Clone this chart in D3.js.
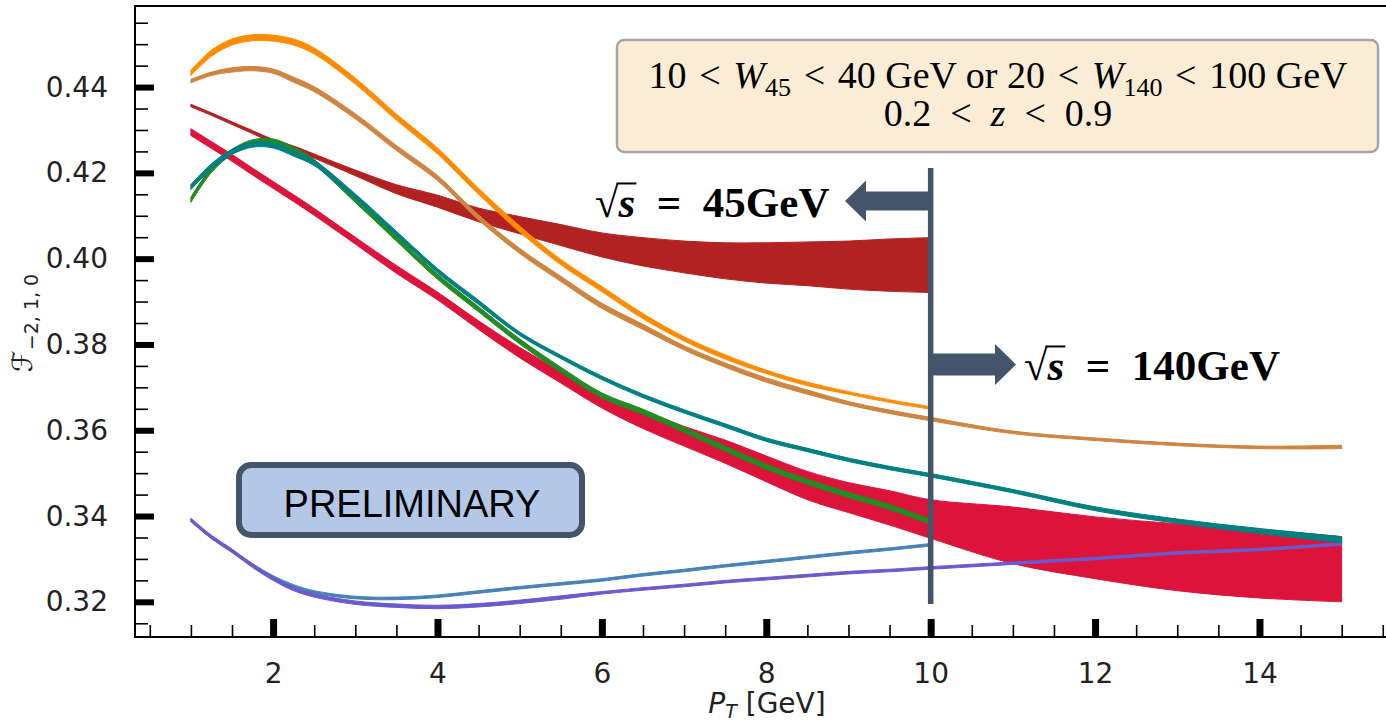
<!DOCTYPE html>
<html>
<head>
<meta charset="utf-8">
<script src="https://cdn.jsdelivr.net/npm/d3@7"></script>
<style>
  html, body { margin: 0; padding: 0; background: #fff; }
  svg { display: block; }
</style>
</head>
<body>
<svg id="chart" width="1386" height="725"></svg>
<script>
// P_T grids: the 45 GeV curves stop at 10 GeV, the 140 GeV ones run to 15 GeV
const ptLow = [1, 1.25, 1.5, 1.75, 2, 2.25, 2.5, 3, 3.5, 4, 4.5, 5, 5.5, 6, 6.5, 7, 7.5, 8, 8.5, 9, 9.5, 10];
const ptHigh = [1, 1.25, 1.5, 1.75, 2, 2.25, 2.5, 3, 3.5, 4, 4.5, 5, 5.5, 6, 6.5, 7, 7.5, 8, 8.5, 9, 9.5, 10, 11, 12, 13, 14, 15];

// band centres and half widths
const orangeMid = [0.4433, 0.4479, 0.4505, 0.4515, 0.4514, 0.4505, 0.4484, 0.4414, 0.4330, 0.4251, 0.4157, 0.4069, 0.3992, 0.3929, 0.3866, 0.3813, 0.3771, 0.3736, 0.3708, 0.3687, 0.3668, 0.3652];
const orangeHalf = [0.0006, 0.0007, 0.0007, 0.0007, 0.0007, 0.0007, 0.0007, 0.0007, 0.0007, 0.0007, 0.0007, 0.0007, 0.0006, 0.0006, 0.0006, 0.0005, 0.0005, 0.0004, 0.0004, 0.0003, 0.0003, 0.0003];

const tanMid = [0.4414, 0.4431, 0.4440, 0.4443, 0.4437, 0.4417, 0.4395, 0.4332, 0.4258, 0.4188, 0.4096, 0.4018, 0.3953, 0.3890, 0.3841, 0.3792, 0.3752, 0.3717, 0.3689, 0.3663, 0.3643, 0.3626, 0.3595, 0.3579, 0.3567, 0.3560, 0.3561];
const tanHalf = [0.0004, 0.0004, 0.0005, 0.0005, 0.0005, 0.0006, 0.0006, 0.0006, 0.0006, 0.0006, 0.0006, 0.0006, 0.0006, 0.0006, 0.0006, 0.0005, 0.0005, 0.0005, 0.0005, 0.0004, 0.0004, 0.0004, 0.0003, 0.0003, 0.0003, 0.0003, 0.0004];

const firebrickMid = [0.4357, 0.4337, 0.4316, 0.4295, 0.4274, 0.4258, 0.4239, 0.4200, 0.4162, 0.4134, 0.4102, 0.4078, 0.4055, 0.4032, 0.4016, 0.4004, 0.3995, 0.3990, 0.3988, 0.3985, 0.3985, 0.3985];
const firebrickHalf = [0.0003, 0.0003, 0.0003, 0.00035, 0.0004, 0.00047, 0.0005, 0.00065, 0.00105, 0.0014, 0.0016, 0.002, 0.00245, 0.0028, 0.0033, 0.0037, 0.0042, 0.0047, 0.0051, 0.0056, 0.0061, 0.0064];

const crimsonMid = [0.4295, 0.4265, 0.4235, 0.4203, 0.4172, 0.4141, 0.4109, 0.4042, 0.3975, 0.3913, 0.3845, 0.3781, 0.3724, 0.3668, 0.3625, 0.3586, 0.3550, 0.3510, 0.3471, 0.3443, 0.3419, 0.3393, 0.3355, 0.3326, 0.3304, 0.3289, 0.3276];
const crimsonHalf = [0.0008, 0.0008, 0.0008, 0.0008, 0.0008, 0.0008, 0.0008, 0.0008, 0.0009, 0.0009, 0.001, 0.0012, 0.0014, 0.0016, 0.0021, 0.0023, 0.0027, 0.003, 0.0033, 0.0035, 0.004, 0.0045, 0.0066, 0.0072, 0.0078, 0.008, 0.0076];

const tealMid = [0.4167, 0.4215, 0.4249, 0.4266, 0.4264, 0.4245, 0.4223, 0.4145, 0.4059, 0.3972, 0.3898, 0.3825, 0.3771, 0.3722, 0.3680, 0.3644, 0.3611, 0.3578, 0.3554, 0.3531, 0.3512, 0.3495, 0.3458, 0.3417, 0.3388, 0.3365, 0.3345];
const tealHalf = [0.0006, 0.0006, 0.0006, 0.0006, 0.0006, 0.0006, 0.0006, 0.0006, 0.0005, 0.0005, 0.0005, 0.0004, 0.0004, 0.0004, 0.0004, 0.0004, 0.0004, 0.0004, 0.0004, 0.0004, 0.0004, 0.0004, 0.0004, 0.00045, 0.0005, 0.0006, 0.0007];

const greenMid = [0.4137, 0.4207, 0.4249, 0.4271, 0.4273, 0.4254, 0.4225, 0.4137, 0.4047, 0.3958, 0.3882, 0.3807, 0.3741, 0.3681, 0.3643, 0.3601, 0.3557, 0.3515, 0.3480, 0.3449, 0.3421, 0.3386];
const greenHalf = [0.0006, 0.0006, 0.0006, 0.0006, 0.0006, 0.0006, 0.0006, 0.0006, 0.0006, 0.0006, 0.0006, 0.0006, 0.0006, 0.0006, 0.0006, 0.0006, 0.0006, 0.0006, 0.0006, 0.0006, 0.0006, 0.0006];

const blueMid = [0.3390, 0.3351, 0.3319, 0.3286, 0.3258, 0.3237, 0.3223, 0.3210, 0.3208, 0.3213, 0.3223, 0.3233, 0.3242, 0.3251, 0.3263, 0.3273, 0.3284, 0.3294, 0.3304, 0.3314, 0.3323, 0.3333];
const blueHalf = [0.0003, 0.0003, 0.0003, 0.0003, 0.0003, 0.0003, 0.0003, 0.0003, 0.0003, 0.0003, 0.0003, 0.0003, 0.0003, 0.0003, 0.0003, 0.0003, 0.0003, 0.0003, 0.0003, 0.0003, 0.0003, 0.0003];

const purpleMid = [0.3391, 0.3351, 0.3319, 0.3284, 0.3254, 0.3230, 0.3215, 0.3198, 0.3191, 0.3188, 0.3192, 0.3200, 0.3210, 0.3221, 0.3230, 0.3238, 0.3247, 0.3254, 0.3261, 0.3268, 0.3273, 0.3279, 0.3290, 0.3301, 0.3314, 0.3322, 0.3335];
const purpleHalf = [0.0004, 0.0004, 0.0004, 0.0004, 0.0004, 0.0004, 0.0004, 0.0004, 0.0004, 0.0004, 0.0004, 0.0004, 0.0004, 0.0003, 0.0003, 0.0003, 0.0003, 0.0003, 0.0003, 0.0003, 0.0003, 0.0003, 0.0003, 0.0003, 0.0003, 0.0003, 0.0003];

// axis ticks
const xMajor = [2, 4, 6, 8, 10, 12, 14];
const xMinor = [0.5, 1, 1.5, 2.5, 3, 3.5, 4.5, 5, 5.5, 6.5, 7, 7.5, 8.5, 9, 9.5, 10.5, 11, 11.5, 12.5, 13, 13.5, 14.5, 15, 15.5];
const yMajor = [0.32, 0.34, 0.36, 0.38, 0.40, 0.42, 0.44];
const yMinor = [0.315, 0.325, 0.33, 0.335, 0.345, 0.35, 0.355, 0.365, 0.37, 0.375, 0.385, 0.39, 0.395, 0.405, 0.41, 0.415, 0.425, 0.43, 0.435, 0.445, 0.45, 0.455];

const svg = d3.select('#chart');

const x = d3.scaleLinear().domain([0.32, 15.7]).range([135, 1399.2]);
const y = d3.scaleLinear().domain([0.3118, 0.4589]).range([637, 6]);

// bands, drawn bottom layer first
const bands = [
    {pt: ptLow, mid: firebrickMid, half: firebrickHalf, color: '#b22222'},
    {pt: ptHigh, mid: crimsonMid, half: crimsonHalf, color: '#dc143c'},
    {pt: ptLow, mid: blueMid, half: blueHalf, color: '#4682b4'},
    {pt: ptHigh, mid: purpleMid, half: purpleHalf, color: '#6a5acd'},
    {pt: ptLow, mid: greenMid, half: greenHalf, color: '#228b22'},
    {pt: ptHigh, mid: tealMid, half: tealHalf, color: '#008080'},
    {pt: ptHigh, mid: tanMid, half: tanHalf, color: '#cd853f'},
    {pt: ptLow, mid: orangeMid, half: orangeHalf, color: '#ff8c00'}
];

const area = d3.area()
    .curve(d3.curveCatmullRom.alpha(0.5))
    .x(d => x(d[0]))
    .y0(d => y(d[1] - d[2]))
    .y1(d => y(d[1] + d[2]));

svg.append('g')
    .attr('class', 'bands')
    .selectAll('path')
    .data(bands)
    .enter().append('path')
    .attr('d', b => area(b.pt.map((p, i) => [p, b.mid[i], b.half[i]])))
    .style('fill', b => b.color)
    .style('stroke', b => b.color)
    .style('stroke-width', 1);

// axes: ticks point inwards, major ones thick
function styleAxis(g)
{
    g.select('.domain').remove();
    g.selectAll('text')
        .style('font-family', '"DejaVu Sans", sans-serif')
        .style('font-size', '28px')
        .style('fill', '#222');
}

svg.append('g')
    .attr('transform', 'translate(0,637)')
    .call(d3.axisBottom(x).tickValues(xMinor).tickSize(-12).tickFormat(''))
    .call(styleAxis)
    .selectAll('line').style('stroke', '#000').style('stroke-width', 1.6);

svg.append('g')
    .attr('transform', 'translate(0,637)')
    .call(d3.axisBottom(x).tickValues(xMajor).tickSize(-18).tickPadding(26).tickFormat(d3.format('d')))
    .call(styleAxis)
    .selectAll('line').style('stroke', '#000').style('stroke-width', 7);

svg.append('g')
    .attr('transform', 'translate(135,0)')
    .call(d3.axisLeft(y).tickValues(yMinor).tickSize(-13).tickFormat(''))
    .call(styleAxis)
    .selectAll('line').style('stroke', '#000').style('stroke-width', 1.6);

svg.append('g')
    .attr('transform', 'translate(135,0)')
    .call(d3.axisLeft(y).tickValues(yMajor).tickSize(-19).tickPadding(27).tickFormat(d3.format('.2f')))
    .call(styleAxis)
    .selectAll('line').style('stroke', '#000').style('stroke-width', 6);

// spines
svg.append('rect')
    .attr('x', x.range()[0]).attr('y', y.range()[1])
    .attr('width', x.range()[1] - x.range()[0])
    .attr('height', y.range()[0] - y.range()[1])
    .style('fill', 'none').style('stroke', '#000').style('stroke-width', 2);

// axis labels
const yLabel = svg.append('text')
    .attr('transform', 'translate(32,323) rotate(-90)')
    .attr('text-anchor', 'middle')
    .style('font-family', '"DejaVu Sans", sans-serif')
    .style('font-size', '28px')
    .style('fill', '#222');
yLabel.append('tspan').style('font-style', 'italic').text('ℱ');
yLabel.append('tspan').attr('dy', 6).style('font-size', '19px').text('−2, 1, 0');

const xLabel = svg.append('text')
    .attr('x', 767).attr('y', 713)
    .attr('text-anchor', 'middle')
    .style('font-family', '"DejaVu Sans", sans-serif')
    .style('font-size', '28px')
    .style('fill', '#222');
xLabel.append('tspan').style('font-style', 'italic').text('P');
xLabel.append('tspan').attr('dy', 5).style('font-size', '19px').style('font-style', 'italic').text('T');
xLabel.append('tspan').attr('dy', -5).text(' [GeV]');

// cut box
const boxColor = '#44546a';
svg.append('rect')
    .attr('x', 617).attr('y', 40).attr('width', 761).attr('height', 112).attr('rx', 7)
    .style('fill', '#fbecd6').style('stroke', '#a5a5a5').style('stroke-width', 2.5);

const cut1 = svg.append('text')
    .attr('x', 998).attr('y', 88)
    .attr('text-anchor', 'middle')
    .style('font-family', '"Liberation Serif", serif')
    .style('font-size', '38px')
    .style('fill', '#000');
cut1.append('tspan').text('10\u2004<\u2004');
cut1.append('tspan').style('font-style', 'italic').text('W');
cut1.append('tspan').attr('dy', 8).style('font-size', '26px').text('45');
cut1.append('tspan').attr('dy', -8).text('\u2004<\u200440 GeV or 20\u2004<\u2004');
cut1.append('tspan').style('font-style', 'italic').text('W');
cut1.append('tspan').attr('dy', 8).style('font-size', '26px').text('140');
cut1.append('tspan').attr('dy', -8).text('\u2004<\u2004100 GeV');

const cut2 = svg.append('text')
    .attr('x', 998).attr('y', 126)
    .attr('text-anchor', 'middle')
    .style('font-family', '"Liberation Serif", serif')
    .style('font-size', '38px')
    .style('fill', '#000');
cut2.append('tspan').text('0.2\u2002<\u2002');
cut2.append('tspan').style('font-style', 'italic').text('z');
cut2.append('tspan').text('\u2002<\u20020.9');

// energy split at 10 GeV with arrows
const lx = x(10);
svg.append('polygon')
    .attr('points', [[lx, 191.5], [866, 191.5], [866, 180.5], [845, 201], [866, 221.5], [866, 210.5], [lx, 210.5]].join(' '))
    .style('fill', boxColor);
svg.append('polygon')
    .attr('points', [[lx, 353.5], [995, 353.5], [995, 344], [1016, 364.5], [995, 385], [995, 375.5], [lx, 375.5]].join(' '))
    .style('fill', boxColor);
svg.append('line')
    .attr('x1', lx).attr('x2', lx).attr('y1', 168).attr('y2', 604)
    .style('stroke', boxColor).style('stroke-width', 5.5);

function energyLabel(x0, y0, value)
{
    const fs = 43;
    const t = svg.append('text')
        .attr('x', x0).attr('y', y0)
        .style('font-family', '"Liberation Serif", serif')
        .style('font-size', fs + 'px')
        .style('font-weight', 'bold')
        .style('fill', '#000');
    t.append('tspan').style('font-weight', 'normal').text('√');
    t.append('tspan').style('font-style', 'italic').text('s');
    t.append('tspan').text('\u2002=\u2002' + value + 'GeV');
    const node = t.node();
    const r = node.getExtentOfChar(0), s = node.getExtentOfChar(1);
    svg.append('line')
        .attr('x1', r.x + r.width - 2).attr('x2', s.x + s.width + 1)
        .attr('y1', y0 - 0.78 * fs).attr('y2', y0 - 0.78 * fs)
        .style('stroke', '#000').style('stroke-width', 2);
}
energyLabel(595, 217, 45);
energyLabel(1024, 380, 140);

// preliminary stamp
svg.append('rect')
    .attr('x', 239).attr('y', 465).attr('width', 343).attr('height', 70).attr('rx', 12)
    .style('fill', '#b4c7e7').style('stroke', boxColor).style('stroke-width', 6);
svg.append('text')
    .attr('x', 412).attr('y', 517)
    .attr('text-anchor', 'middle')
    .style('font-family', '"Liberation Sans", sans-serif')
    .style('font-size', '38px')
    .style('fill', '#000')
    .text('PRELIMINARY');
</script>
</body>
</html>
